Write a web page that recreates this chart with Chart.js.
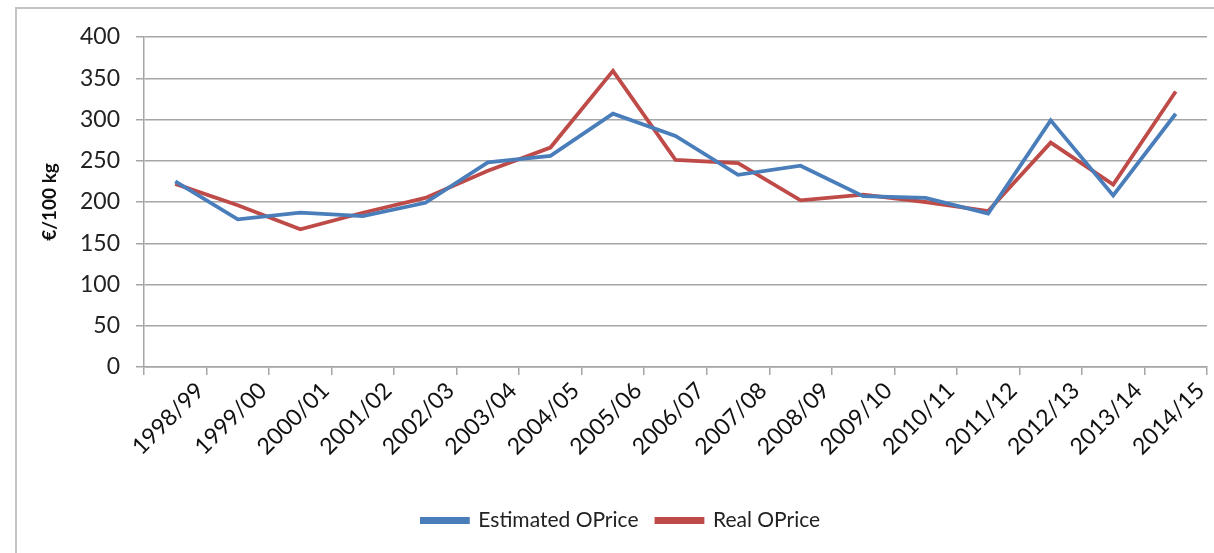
<!DOCTYPE html>
<html>
<head>
<meta charset="utf-8">
<script src="https://cdn.jsdelivr.net/npm/chart.js@4/dist/chart.umd.min.js"></script>
<style>
  html, body { margin: 0; padding: 0; background: #fff; }
  #frame { position: absolute; left: 15px; top: 7px; width: 1199px; height: 546px;
           border-left: 2px solid #c4c4c4; border-top: 2px solid #c4c4c4; }
  #wrap { position: absolute; left: 0; top: 0; width: 1214px; height: 553px; }
</style>
</head>
<body>
<div id="frame"></div>
<div id="wrap"><canvas id="grafico"></canvas></div>
<script>
// campagnes
const seasons = ['1998/99', '1999/00', '2000/01', '2001/02', '2002/03', '2003/04', '2004/05', '2005/06', '2006/07',
  '2007/08', '2008/09', '2009/10', '2010/11', '2011/12', '2012/13', '2013/14', '2014/15'];

// €/100 kg
const estimatedPrice = [225, 179, 187, 183, 199, 248, 256, 307, 280, 233, 244, 207, 205, 186, 299, 208, 307];
const realPrice = [222, 196, 167, 187, 205, 238, 266, 359, 251, 247, 202, 209, 200, 189, 272, 221, 334];

const yTicks = [0, 50, 100, 150, 200, 250, 300, 350, 400];

const fontFamily = 'Lato, "Noto Sans", sans-serif';

let ctx = document.getElementById('grafico').getContext('2d');

let chart = new Chart(ctx, {
    type: 'line',
    data: {
        labels: seasons,
        datasets: [{
                label: 'Estimated OPrice',
                data: estimatedPrice,
                borderColor: '#4a7ebb',
                backgroundColor: '#4a7ebb',
                borderWidth: 3.8,
                pointRadius: 0,
                tension: 0
            },
            {
                label: 'Real OPrice',
                data: realPrice,
                borderColor: '#be4b48',
                backgroundColor: '#be4b48',
                borderWidth: 3.8,
                pointRadius: 0,
                tension: 0
            }
        ]
    },
    options: {
        responsive: true,
        maintainAspectRatio: false,
        animation: false,
        layout: { padding: { left: 35, top: 37, right: 7, bottom: 12 } },
        plugins: {
            tooltip: { enabled: false },
            legend: {
                position: 'bottom',
                labels: {
                    boxWidth: 46,
                    boxHeight: 3,
                    padding: 18,
                    color: '#222',
                    font: { family: fontFamily, size: 21 }
                }
            }
        },
        scales: {
            x: {
                offset: true,
                afterFit: function (scale) { scale.height = 125; },
                grid: {
                    offset: true,
                    drawOnChartArea: false,
                    drawTicks: true,
                    tickLength: 8,
                    color: '#a6a6a6',
                    lineWidth: 1.5
                },
                border: { color: '#a6a6a6', width: 1.5 },
                ticks: {
                    minRotation: 45,
                    maxRotation: 45,
                    autoSkip: false,
                    padding: 2,
                    labelOffset: 25,
                    color: '#111',
                    font: { family: fontFamily, size: 23 }
                }
            },
            y: {
                min: 0,
                max: 400,
                afterFit: function (scale) { scale.width = 109; },
                afterBuildTicks: function (scale) { scale.ticks = yTicks.map(v => ({ value: v })); },
                grid: {
                    color: '#a6a6a6',
                    lineWidth: 1.5,
                    tickLength: 8
                },
                border: { color: '#a6a6a6', width: 1.5 },
                ticks: {
                    padding: 16,
                    color: '#222',
                    font: { family: fontFamily, size: 23 }
                },
                title: {
                    display: true,
                    text: '€/100 kg',
                    color: '#111',
                    padding: { top: 3, bottom: 4 },
                    font: { family: fontFamily, size: 19, weight: 'bold' }
                }
            }
        }
    }
});
</script>
</body>
</html>
